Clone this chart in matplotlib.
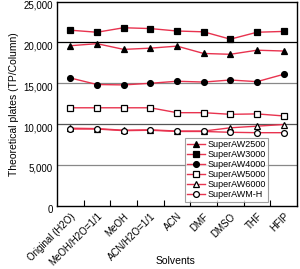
import numpy as np
import matplotlib
matplotlib.use("Agg")
import matplotlib.pyplot as plt
import matplotlib.transforms as mtransforms

plt.rcParams['font.family'] = ['Liberation Sans', 'DejaVu Sans']

solvents = ["Original (H2O)", "MeOH/H2O=1/1", "MeOH", "ACN/H2O=1/1",
            "ACN", "DMF", "DMSO", "THF", "HFIP"]
aw2500 = [19600, 19850, 19150, 19300, 19550, 18650, 18550, 19050, 18950]
aw3000 = [21500, 21250, 21800, 21700, 21400, 21300, 20400, 21250, 21350]
aw4000 = [15650, 14850, 14800, 15000, 15250, 15150, 15400, 15200, 16100]
aw5000 = [12000, 12000, 12000, 12000, 11400, 11400, 11200, 11250, 11000]
aw6000 = [9500, 9450, 9250, 9300, 9150, 9150, 9550, 9750, 9950]
awmh = [9400, 9400, 9200, 9250, 9100, 9100, 9000, 8950, 8950]

series = [
    ("SuperAW2500", aw2500, "^", "black"),
    ("SuperAW3000", aw3000, "s", "black"),
    ("SuperAW4000", aw4000, "o", "black"),
    ("SuperAW5000", aw5000, "s", "white"),
    ("SuperAW6000", aw6000, "^", "white"),
    ("SuperAWM-H", awmh, "o", "white"),
]

red = "#e8334f"
fig = plt.figure(figsize=(3.0, 2.69), dpi=100)
ax = fig.add_axes([0.19, 0.235, 0.80, 0.759])

x = np.arange(len(solvents))
for name, vals, mk, fc in series:
    ax.plot(x, vals, color=red, lw=1.0, marker=mk, ms=4.2,
            mfc=fc, mec="black", mew=0.9, label=name)

for v, c in [(5000, "#888888"), (10000, "#555555"), (15000, "#888888"), (20000, "black")]:
    ax.axhline(v, color=c, lw=0.9, zorder=0)

ax.set_xlim(-0.5, 8.5)
ax.set_ylim(0, 25000)
ax.set_yticks(np.arange(0, 25001, 5000))
ax.set_yticklabels(["0", "5,000", "10,000", "15,000", "20,000", "25,000"], fontsize=7)
ax.tick_params(axis='y', length=0, pad=3)
shift = mtransforms.ScaledTranslation(0, -3 / 100, fig.dpi_scale_trans)
for lab in ax.get_yticklabels():
    lab.set_transform(lab.get_transform() + shift)
ax.set_xticks(x)
ax.set_xticklabels(solvents, rotation=45, ha='right', rotation_mode='anchor', fontsize=7)
ax.set_xticks(np.arange(0.5, 8, 1), minor=True)
ax.tick_params(axis='x', which='major', length=0, pad=4)
ax.tick_params(axis='x', which='minor', direction='in', length=4, width=0.8)
for s in ax.spines.values():
    s.set_linewidth(1.0)

ax.set_ylabel("Theoretical plates (TP/Column)", fontsize=7.5, labelpad=3)
fig.text(0.585, 0.02, "Solvents", fontsize=7.5, ha='center')

leg = ax.legend(loc='lower right', bbox_to_anchor=(0.88, 0.02), fontsize=6.5,
                frameon=True, fancybox=False, edgecolor="#888888",
                handlelength=2.0, handletextpad=0.2, labelspacing=0.1,
                borderpad=0.3, borderaxespad=0)
leg.get_frame().set_linewidth(0.8)

fig.savefig("out.png", dpi=100)
